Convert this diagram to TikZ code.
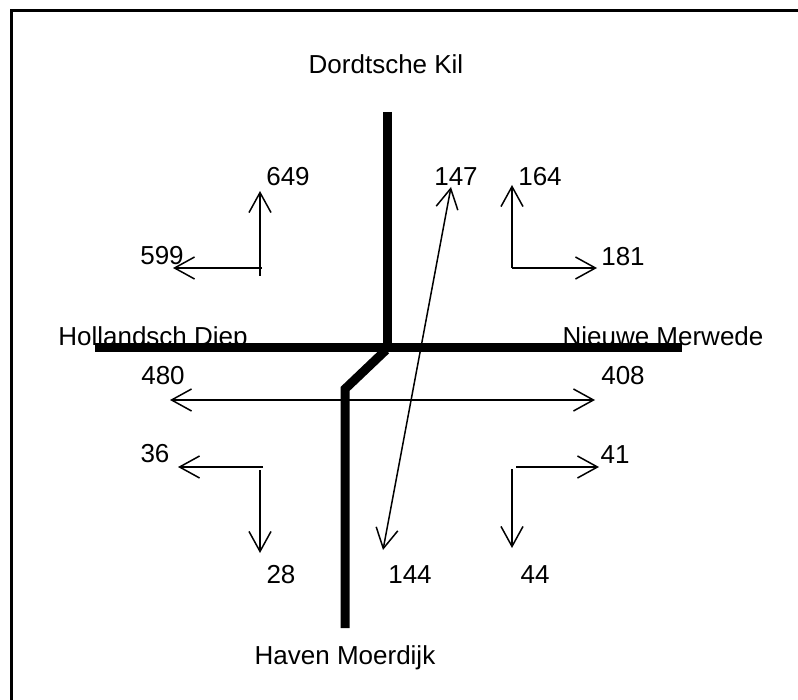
\documentclass[tikz,border=0pt]{standalone}
\usepackage{fontspec}
\setmainfont{Liberation Sans}
\usetikzlibrary{arrows.meta}
\begin{document}
\begin{tikzpicture}[x=1pt,y=-1pt,
  lbl/.style={font=\fontsize{26}{31}\selectfont, inner sep=0pt, anchor=base},
  river/.style={line width=9pt, line join=miter},
  flow/.style={line width=1.5pt, -{Straight Barb[length=20pt,width=22pt]}},
  bothflow/.style={line width=1.5pt, {Straight Barb[length=20pt,width=22pt]}-{Straight Barb[length=20pt,width=22pt]}},
  frame/.style={line width=3pt}]
\useasboundingbox (0,0) rectangle (798,700);
\clip (0,0) rectangle (798,700);
% frame (only top and left visible)
\coordinate (fbl) at (11,720);
\coordinate (ftl) at (11,11);
\coordinate (ftr) at (820,11);
\draw[frame] (fbl) -- (ftl) -- (ftr);

% labels
\node[lbl] (dk) at (386,74) {Dordtsche Kil};
\node[lbl] (hm) at (345,664) {Haven Moerdijk};
\node[lbl] (hd) at (153,346) {Hollandsch Diep};
\node[lbl] (nm) at (663,346) {Nieuwe Merwede};

\node[lbl] (n649) at (288,186) {649};
\node[lbl] (n147) at (456,186) {147};
\node[lbl] (n164) at (540,186) {164};
\node[lbl] (n599) at (162,265) {599};
\node[lbl] (n181) at (623,266) {181};
\node[lbl] (n480) at (163,385) {480};
\node[lbl] (n408) at (623,385) {408};
\node[lbl] (n36) at (155,463) {36};
\node[lbl] (n41) at (615,464) {41};
\node[lbl] (n28) at (281,583) {28};
\node[lbl] (n144) at (410,583) {144};
\node[lbl] (n44) at (535,583) {44};

% rivers
\coordinate (kilTop) at (387,112);
\coordinate (kilBot) at (387,352);
\coordinate (hdEnd) at (95,348);
\coordinate (nmEnd) at (682,348);
\coordinate (hmA) at (386,350);
\coordinate (hmB) at (345,389);
\coordinate (hmEnd) at (345,628);
\draw[river] (kilTop) -- (kilBot);
\draw[river] (hdEnd) -- (nmEnd);
\draw[river] (hmA) -- (hmB) -- (hmEnd);

% top-left group
\coordinate (a1) at (260,276);
\coordinate (a1t) at (260,191);
\coordinate (a2) at (262,268);
\coordinate (a2t) at (173,268);
\draw[flow] (a1) -- (a1t);
\draw[flow] (a2) -- (a2t);

% top-right group
\coordinate (b1) at (512,268);
\coordinate (b1t) at (512,185);
\coordinate (b2) at (512,268);
\coordinate (b2t) at (597,268);
\draw[flow] (b1) -- (b1t);
\draw[flow] (b2) -- (b2t);

% long diagonal
\coordinate (d1) at (383,550);
\coordinate (d2) at (451,187);
\draw[bothflow] (d1) -- (d2);

% horizontal double
\coordinate (h1) at (170,400);
\coordinate (h2) at (595,400);
\draw[bothflow] (h1) -- (h2);

% bottom-left group
\coordinate (c1) at (263,467);
\coordinate (c1t) at (178,467);
\coordinate (c2) at (260,470);
\coordinate (c2t) at (260,553);
\draw[flow] (c1) -- (c1t);
\draw[flow] (c2) -- (c2t);

% bottom-right group
\coordinate (e1) at (516,467);
\coordinate (e1t) at (599,467);
\coordinate (e2) at (512,469);
\coordinate (e2t) at (512,548);
\draw[flow] (e1) -- (e1t);
\draw[flow] (e2) -- (e2t);
\end{tikzpicture}
\end{document}
